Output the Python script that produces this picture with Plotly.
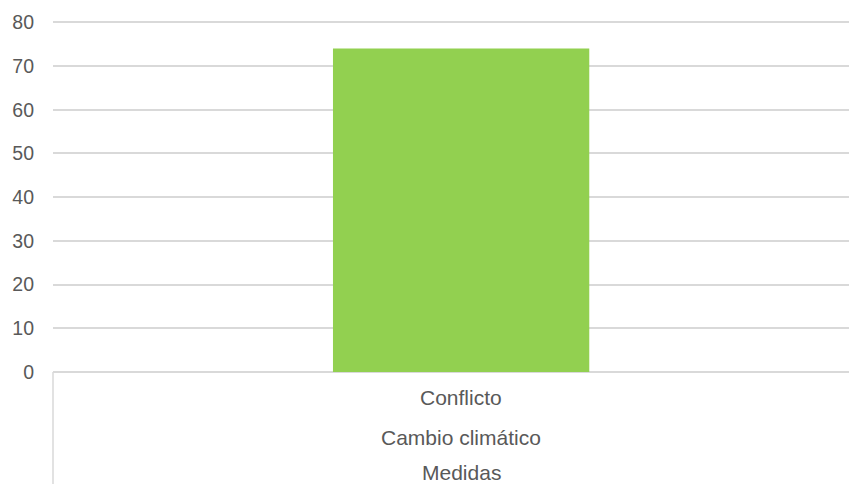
import plotly.graph_objects as go

# Data
conflicto = ["Conflicto"]
cambio = ["Cambio climático"]
medidas = ["Medidas"]
values = [74]
y_ticks = [0, 10, 20, 30, 40, 50, 60, 70, 80]

FONT = "Liberation Sans, Arial, sans-serif"
TXT = "#595959"
GRID = "#d9d9d9"

fig = go.Figure()
fig.add_trace(go.Bar(
    x=conflicto, y=values, width=0.314,
    marker=dict(color="#92d050", line=dict(width=0)),
    hoverinfo="x+y",
))

# multi-level category labels
levels = [conflicto, cambio, medidas]
shifts = [-25, -65, -100]
for lev, sh in zip(levels, shifts):
    fig.add_annotation(
        x=conflicto[0], xref="x", y=0, yref="paper",
        yanchor="middle", yshift=sh, text=lev[0], showarrow=False,
        borderpad=0,
        font=dict(family=FONT, size=21, color=TXT),
    )

# left separator line of the category axis
fig.add_shape(type="line", xref="paper", x0=0, x1=0, yref="paper",
              ysizemode="pixel", yanchor=0, y0=0, y1=-112,
              line=dict(color=GRID, width=1.5))

fig.update_layout(
    width=849, height=476,
    margin=dict(l=45, r=0, t=13, b=112),
    paper_bgcolor="white", plot_bgcolor="white",
    showlegend=False,
    font=dict(family=FONT, size=19.5, color=TXT),
    xaxis=dict(type="category", range=[-0.5, 0.485], showticklabels=False,
               showgrid=False, zeroline=False, showline=False, fixedrange=True),
    yaxis=dict(range=[0, 80.3], tickvals=y_ticks, showgrid=True, gridcolor=GRID,
               gridwidth=1.5, zeroline=True, zerolinecolor=GRID, zerolinewidth=1.5,
               showline=False, ticks="", ticklabelstandoff=18,
               tickfont=dict(family=FONT, size=19.5, color=TXT)),
)

fig.write_html("out.html")
